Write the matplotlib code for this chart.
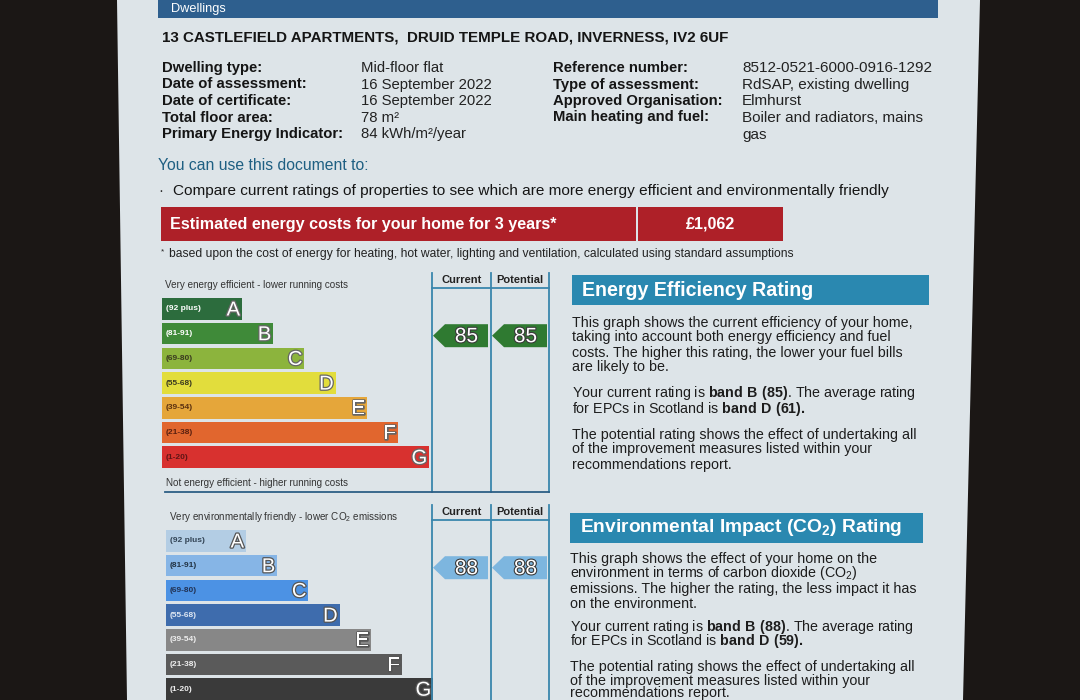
import matplotlib
matplotlib.use("Agg")
import matplotlib.pyplot as plt
from matplotlib.patches import Polygon, Rectangle
import matplotlib.patheffects as pe

plt.rcParams['font.family'] = ['Liberation Sans', 'DejaVu Sans']
plt.rcParams['mathtext.fontset'] = 'custom'
plt.rcParams['mathtext.rm'] = 'Liberation Sans'
plt.rcParams['mathtext.bf'] = 'Liberation Sans:bold'

# ---------------- data ----------------
address = "13 CASTLEFIELD APARTMENTS,  DRUID TEMPLE ROAD, INVERNESS, IV2 6UF"
left_labels = ["Dwelling type:", "Date of assessment:", "Date of certificate:",
               "Total floor area:", "Primary Energy Indicator:"]
left_values = ["Mid-floor flat", "16 September 2022", "16 September 2022",
               "78 m²", "84 kWh/m²/year"]
right_labels = ["Reference number:", "Type of assessment:", "Approved Organisation:",
                "Main heating and fuel:"]
right_values = ["8512-0521-6000-0916-1292", "RdSAP, existing dwelling", "Elmhurst",
                "Boiler and radiators, mains\ngas"]
cost_label = "Estimated energy costs for your home for 3 years*"
cost_value = "£1,062"

bands = ["A", "B", "C", "D", "E", "F", "G"]
band_ranges = ["(92 plus)", "(81-91)", "(69-80)", "(55-68)", "(39-54)", "(21-38)", "(1-20)"]
band_lower = [92, 81, 69, 55, 39, 21, 1]

ee_colors = ["#2c6c3d", "#3f8a39", "#8cb43d", "#e2dd3c", "#e5a63a", "#e1662e", "#d8312f"]
ei_colors = ["#b3cde4", "#86b5e6", "#4c92e4", "#3e6cad", "#878787", "#5a5a5a", "#3a3a3a"]

ee_current, ee_potential = 85, 85
ei_current, ei_potential = 88, 88
avg_ee, avg_ei = ("D", 61), ("D", 59)


def band_index(r):
    for i, lo in enumerate(band_lower):
        if r >= lo:
            return i
    return len(band_lower) - 1


# ---------------- figure ----------------
fig = plt.figure(figsize=(10.8, 7.0), dpi=100)
fig.patch.set_facecolor("#1b1715")
ax = fig.add_axes([0, 0, 1, 1])
ax.set_xlim(0, 1080)
ax.set_ylim(700, 0)
ax.axis("off")

# page
ax.add_patch(Polygon([(117, 0), (980, 0), (963, 700), (127, 700)], closed=True,
                     facecolor="#dde4e8", edgecolor="none", zorder=0))

# header bar
ax.add_patch(Rectangle((158, -2), 780, 20, facecolor="#2e5f8e", edgecolor="none"))
ax.text(171, 9, "Dwellings", color="white", fontsize=9.2, va="center")

ax.text(162, 37, address, fontsize=10.9, fontweight="bold", va="center", color="#151515")

ys = [68, 84.5, 101, 117.5, 134]
for i, (l, v) in enumerate(zip(left_labels, left_values)):
    ax.text(162, ys[i], l, fontsize=10.7, fontweight="bold", va="center", color="#151515")
    ax.text(361, ys[i], v, fontsize=10.7, va="center", color="#222222")
for i, (l, v) in enumerate(zip(right_labels, right_values)):
    ax.text(553, ys[i], l, fontsize=10.7, fontweight="bold", va="center", color="#151515")
    ax.text(742, ys[i] - 7, v, fontsize=11, va="top", color="#222222", linespacing=1.3)

ax.text(158, 166, "You can use this document to:", fontsize=11.3, color="#1e5f82", va="center")
ax.text(158, 191, "·", fontsize=11, color="#333333", va="center")
ax.text(173, 191, "Compare current ratings of properties to see which are more energy "
        "efficient and environmentally friendly", fontsize=11.1, color="#151515", va="center")

ax.add_patch(Rectangle((161, 207), 475, 34, facecolor="#ae2028", edgecolor="none"))
ax.add_patch(Rectangle((638, 207), 145, 34, facecolor="#ae2028", edgecolor="none"))
ax.text(170, 224, cost_label, color="white", fontsize=11.6, fontweight="bold", va="center")
ax.text(711, 224, cost_value, color="white", fontsize=11.6, fontweight="bold",
        va="center", ha="center")
ax.text(161, 252, "*", fontsize=6, color="#222222", va="center")
ax.text(169, 254, "based upon the cost of energy for heating, hot water, lighting and "
        "ventilation, calculated using standard assumptions", fontsize=8.75,
        color="#222222", va="center")


def rating_chart(top, x0, colors, cur, pot, arrow_col, range_text_cols,
                 top_text, bottom_text, letter_edge):
    col_x = [432, 491, 549]
    line_col = "#3a86ad"
    for cx in col_x:
        ax.plot([cx, cx], [top - 12, top + 207], color=line_col, lw=1.3)
    ax.plot([col_x[0], col_x[2]], [top + 3, top + 3], color=line_col, lw=1.3)
    ax.text((col_x[0] + col_x[1]) / 2, top - 5, "Current", fontsize=8, fontweight="bold",
            ha="center", va="center", color="#222222")
    ax.text((col_x[1] + col_x[2]) / 2, top - 5, "Potential", fontsize=8, fontweight="bold",
            ha="center", va="center", color="#222222")
    ax.text(x0 + 3, top, top_text, fontsize=7.1, va="center", color="#333333")

    step = 24.7
    ys_c = [top + 24 + step * i for i in range(len(bands))]
    widths = [80 + 31.2 * i for i in range(len(bands))]
    ax.barh(ys_c, widths, height=21.5, left=x0, color=colors, edgecolor="none")
    for i, b in enumerate(bands):
        ax.text(x0 + 4, ys_c[i], band_ranges[i], fontsize=6, fontweight="bold",
                va="center", color=range_text_cols[i])
        ax.text(x0 + widths[i] - 2, ys_c[i] + 1, b, fontsize=14.5, color="white",
                ha="right", va="center",
                path_effects=[pe.withStroke(linewidth=1.8, foreground=letter_edge)])
    if bottom_text:
        ax.text(x0 + 4, top + 198, bottom_text, fontsize=7.1, va="center", color="#333333")
        ax.plot([x0 + 3, col_x[2]], [top + 207, top + 207], color="#2c5e85", lw=1.3)

    for val, (xa, xb) in [(cur, (433, 488)), (pot, (492, 547))]:
        yc = ys_c[band_index(val)] + 2
        h = 11.5
        poly = Polygon([(xa, yc), (xa + 12, yc - h), (xb, yc - h), (xb, yc + h),
                        (xa + 12, yc + h)], closed=True, facecolor=arrow_col,
                       edgecolor="none")
        ax.add_patch(poly)
        ax.text((xa + xb) / 2 + 6, yc + 1, str(val), fontsize=15, color="white",
                ha="center", va="center",
                path_effects=[pe.withStroke(linewidth=1.6, foreground="#3a3a3a")])


rating_chart(285, 162, ee_colors, ee_current, ee_potential, "#2f7a31",
             ["white", "white", "#3a3a20", "#3a3a20", "#5a3010", "#5a2010", "#601515"],
             "Very energy efficient - lower running costs",
             "Not energy efficient - higher running costs", "#666666")
rating_chart(517, 166, ei_colors, ei_current, ei_potential, "#7db6df",
             ["#334455", "#223344", "#223355", "#dde6f2", "#eeeeee", "#eeeeee", "#eeeeee"],
             "Very environmentally friendly - lower CO$_2$ emissions",
             None, "#555555")

BODY = 10.3


def body_line(x, yc, txt):
    ax.text(x, yc + 4.5, txt, fontsize=BODY, va="baseline", color="#1d1d1d")


# right side: energy efficiency
ax.add_patch(Rectangle((572, 275), 357, 30, facecolor="#2a88b0", edgecolor="none"))
ax.text(582, 290, "Energy Efficiency Rating", color="white", fontsize=14.1,
        fontweight="bold", va="center")
ee_lines = [
    (322, "This graph shows the current efficiency of your home,"),
    (337, "taking into account both energy efficiency and fuel"),
    (352, "costs. The higher this rating, the lower your fuel bills"),
    (367, "are likely to be."),
    (393, "Your current rating is $\\mathbf{band\\ B\\ (%d)}$. The average rating"
     % ee_current),
    (408, "for EPCs in Scotland is $\\mathbf{band\\ %s\\ (%d).}$" % avg_ee),
    (434, "The potential rating shows the effect of undertaking all"),
    (449, "of the improvement measures listed within your"),
    (464, "recommendations report."),
]
for yc, t in ee_lines:
    body_line(572, yc, t)

# right side: environmental impact
ax.add_patch(Rectangle((570, 513), 353, 30, facecolor="#2a88b0", edgecolor="none"))
ax.text(580, 527, "Environmental Impact (CO$_\\mathbf{2}$) Rating", color="white",
        fontsize=13.9, fontweight="bold", va="center")
ei_lines = [
    (558, "This graph shows the effect of your home on the"),
    (573, "environment in terms of carbon dioxide (CO$_2$)"),
    (588, "emissions. The higher the rating, the less impact it has"),
    (603, "on the environment."),
    (627, "Your current rating is $\\mathbf{band\\ B\\ (%d)}$. The average rating"
     % ei_current),
    (641, "for EPCs in Scotland is $\\mathbf{band\\ %s\\ (%d).}$" % avg_ei),
    (666, "The potential rating shows the effect of undertaking all"),
    (680, "of the improvement measures listed within your"),
    (693, "recommendations report."),
]
for yc, t in ei_lines:
    body_line(570, yc, t)

fig.savefig("out.png", dpi=100, facecolor=fig.get_facecolor())
